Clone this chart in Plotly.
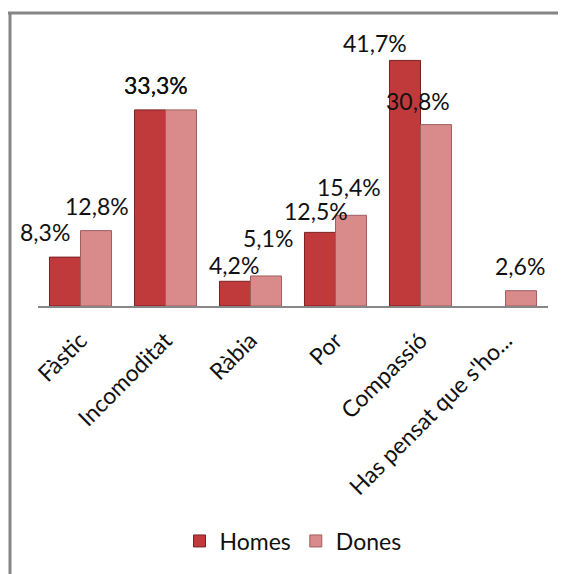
import plotly.graph_objects as go

categories = ["Fàstic", "Incomoditat", "Ràbia", "Por", "Compassió", "Has pensat que s'ho..."]
homes = [8.3, 33.3, 4.2, 12.5, 41.7, None]
dones = [12.8, 33.3, 5.1, 15.4, 30.8, 2.6]
series_names = ["Homes", "Dones"]

# styling
col_homes = "#C0393B"
col_dones = "#D98A8B"
line_homes = "#7A2022"
line_dones = "#A05E5F"
FONT = "Lato, 'Open Sans', sans-serif"
FS = 23
TXT = "#111111"

# label placement tweaks (pixels: dx, dy above bar top to text middle)
shift_homes = [(-36, 25), (-10, 25), (-17, 16), (-20, 21), (-46, 17), (0, 0)]
shift_dones = [(16, 25), (-10, 25), (17, 38), (13, 28), (-3, 24), (14, 25)]


def fmt(v):
    return f"{v:.1f}".replace(".", ",") + "%"


fig = go.Figure()
fig.add_trace(go.Bar(x=categories, y=homes, name=series_names[0],
                     marker=dict(color=col_homes, line=dict(color=line_homes, width=1))))
fig.add_trace(go.Bar(x=categories, y=dones, name=series_names[1],
                     marker=dict(color=col_dones, line=dict(color=line_dones, width=1))))

annotations = []
for vals, shifts in ((homes, shift_homes), (dones, shift_dones)):
    for c, v, (dx, dy) in zip(categories, vals, shifts):
        if v is None:
            continue
        annotations.append(dict(x=c, y=v, xref="x", yref="y", text=fmt(v), showarrow=False,
                                xshift=dx, yshift=dy, yanchor="middle", xanchor="center",
                                font=dict(family=FONT, size=FS, color=TXT)))

W, H = 558, 566
L, R, T = 30, 18, 33
PH = 265
B = H - T - PH
PW = W - L - R


def px_x(p):
    return (p - L) / PW


def px_y(p):
    return (T + PH - p) / PH


shapes = [
    dict(type="line", xref="paper", yref="paper", x0=px_x(0), x1=px_x(W + 2), y0=px_y(5), y1=px_y(5),
         line=dict(color="#868686", width=3)),
    dict(type="line", xref="paper", yref="paper", x0=px_x(2), x1=px_x(2), y0=px_y(4), y1=px_y(H + 2),
         line=dict(color="#868686", width=3)),
]

fig.update_layout(
    width=W, height=H,
    margin=dict(l=L, r=R, t=T, b=B, autoexpand=False),
    paper_bgcolor="white", plot_bgcolor="white",
    barmode="group", bargap=0.27, bargroupgap=0,
    font=dict(family=FONT, size=FS, color=TXT),
    xaxis=dict(showline=True, linecolor="#878787", linewidth=2, ticks="", tickangle=-45,
               tickfont=dict(family=FONT, size=FS, color=TXT), automargin=False,
               ticklabelstandoff=10,
               showgrid=False, range=[-0.5, len(categories) - 0.5]),
    yaxis=dict(range=[0, 45], visible=False, showgrid=False, zeroline=False),
    showlegend=True,
    legend=dict(orientation="h", x=0.5, xanchor="center", y=px_y(533), yanchor="middle",
                font=dict(family=FONT, size=FS, color=TXT), itemwidth=30),
    annotations=annotations,
    shapes=shapes,
)

fig.write_html("out.html")
